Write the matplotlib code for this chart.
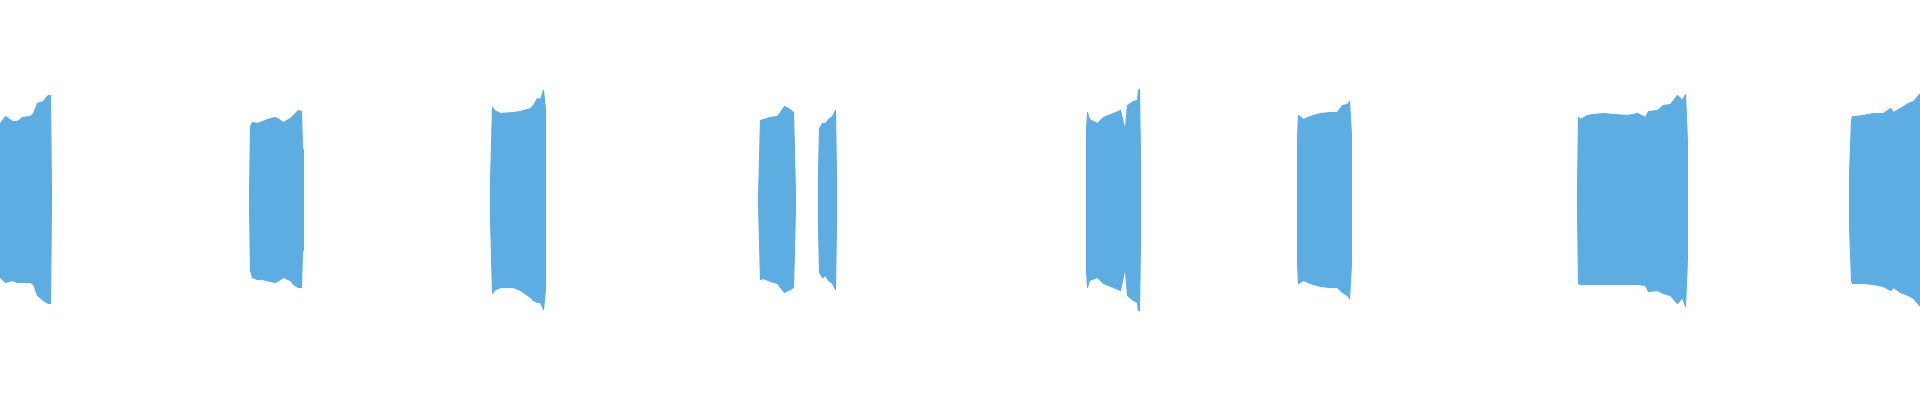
import matplotlib
matplotlib.use("Agg")
import matplotlib.pyplot as plt

# waveform bursts: time (x units), upper envelope, lower envelope
seg_t = [
    [0, 5, 12, 17, 22, 30, 33, 37, 43, 46, 48, 50, 51],
    [249, 250, 252, 257, 262, 270, 275, 283, 290, 293, 298, 301, 302, 303],
    [490, 492, 494, 500, 513, 520, 530, 533, 537, 540, 543, 545],
    [758, 760, 763, 770, 777, 780, 784, 788, 793, 795],
    [818, 819, 822, 825, 828, 832, 835, 836],
    [1086, 1087, 1089, 1097, 1103, 1113, 1120, 1124, 1125, 1127, 1133, 1137, 1138, 1139, 1140],
    [1297, 1298, 1303, 1310, 1320, 1330, 1337, 1342, 1347, 1349, 1351],
    [1577, 1578, 1580, 1587, 1593, 1603, 1613, 1627, 1637, 1645, 1648, 1657, 1663, 1670, 1677, 1682, 1685, 1687],
    [1849, 1851, 1852, 1855, 1863, 1873, 1883, 1890, 1893, 1900, 1908, 1913, 1920],
]
seg_hi = [
    [0.385, 0.42, 0.395, 0.395, 0.415, 0.42, 0.435, 0.485, 0.495, 0.515, 0.525, 0.525, 0.02],
    [0.02, 0.37, 0.39, 0.385, 0.395, 0.41, 0.415, 0.39, 0.41, 0.425, 0.45, 0.445, 0.255, 0.255],
    [0.09, 0.465, 0.45, 0.435, 0.44, 0.445, 0.46, 0.475, 0.51, 0.505, 0.55, 0.455],
    [0.01, 0.40, 0.405, 0.415, 0.42, 0.44, 0.47, 0.46, 0.44, 0.04],
    [0.13, 0.36, 0.385, 0.385, 0.405, 0.42, 0.45, 0.125],
    [0.35, 0.44, 0.405, 0.385, 0.415, 0.435, 0.45, 0.365, 0.365, 0.475, 0.495, 0.50, 0.55, 0.555, 0.21],
    [0.31, 0.425, 0.405, 0.42, 0.435, 0.44, 0.44, 0.475, 0.48, 0.495, 0.325],
    [0.035, 0.415, 0.405, 0.425, 0.43, 0.435, 0.43, 0.425, 0.435, 0.415, 0.445, 0.45, 0.475, 0.48, 0.525, 0.50, 0.53, 0.29],
    [0.125, 0.40, 0.42, 0.42, 0.425, 0.435, 0.435, 0.46, 0.44, 0.46, 0.485, 0.495, 0.535],
]
seg_lo = [
    [-0.385, -0.41, -0.40, -0.41, -0.41, -0.41, -0.42, -0.475, -0.50, -0.51, -0.515, -0.515, -0.01],
    [-0.015, -0.35, -0.385, -0.395, -0.395, -0.405, -0.41, -0.385, -0.40, -0.42, -0.435, -0.435, -0.25, -0.25],
    [-0.085, -0.465, -0.45, -0.435, -0.435, -0.45, -0.485, -0.50, -0.51, -0.51, -0.545, -0.445],
    [-0.01, -0.395, -0.39, -0.405, -0.415, -0.435, -0.46, -0.45, -0.435, -0.04],
    [-0.125, -0.36, -0.385, -0.375, -0.40, -0.415, -0.445, -0.12],
    [-0.35, -0.435, -0.40, -0.385, -0.415, -0.435, -0.45, -0.355, -0.355, -0.475, -0.50, -0.51, -0.55, -0.55, -0.21],
    [-0.31, -0.415, -0.40, -0.415, -0.43, -0.435, -0.435, -0.46, -0.475, -0.49, -0.315],
    [-0.035, -0.415, -0.42, -0.42, -0.42, -0.42, -0.42, -0.42, -0.42, -0.425, -0.455, -0.45, -0.465, -0.475, -0.515, -0.485, -0.53, -0.29],
    [-0.125, -0.40, -0.415, -0.415, -0.415, -0.42, -0.43, -0.45, -0.435, -0.46, -0.475, -0.49, -0.53],
]

wave_color = "#5DADE2"

fig = plt.figure(figsize=(19.2, 4), dpi=100)
ax = fig.add_axes([0, 0, 1, 1])

for t, hi, lo in zip(seg_t, seg_hi, seg_lo):
    ax.fill_between(t, lo, hi, color=wave_color, linewidth=0.8, edgecolor=wave_color)

ax.set_xlim(0, 1920)
ax.set_ylim(-1, 1)
ax.axis("off")

fig.savefig("out.png", dpi=100, facecolor="white")
